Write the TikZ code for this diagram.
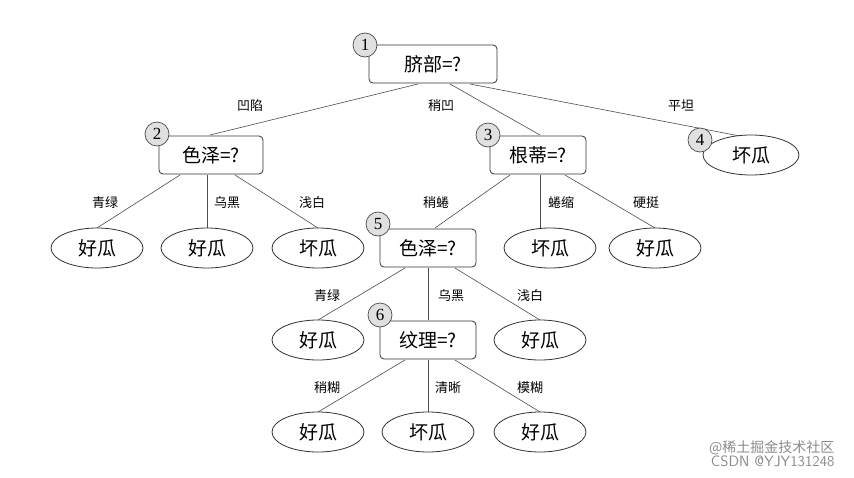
\documentclass[tikz,border=0pt]{standalone}
\usepackage{fontspec}
\newfontfamily\cjk{Noto Sans CJK SC}
\setmainfont{Liberation Serif}
\usetikzlibrary{shapes.geometric}
\begin{document}
\begin{tikzpicture}[x=1pt,y=-1pt,
  dec/.style={draw=black!80,rounded corners=4pt,minimum width=96pt,minimum height=38pt,font=\fontsize{19}{19}\selectfont\cjk,fill=white,line width=0.8pt},
  leaf/.style={draw=black!80,ellipse,minimum width=92pt,minimum height=40pt,font=\fontsize{19}{19}\selectfont\cjk,fill=white,line width=0.8pt},
  num/.style={draw=black!70,circle,fill=black!12,minimum size=24pt,inner sep=0pt,font=\fontsize{17}{17}\selectfont,line width=0.7pt},
  lab/.style={font=\fontsize{13}{13}\selectfont\cjk},
  edge/.style={draw=black!70,line width=0.6pt}]
\useasboundingbox (0,0) rectangle (854,477);
\fill[white] (0,0) rectangle (854,477);
% edges first
\coordinate (e1a) at (418,84);
\coordinate (e1b) at (450,84);
\coordinate (e1c) at (470,84);
\coordinate (t2) at (210,135);
\coordinate (t3) at (540,135);
\coordinate (t4) at (745,137);
\draw[edge] (e1a) -- (t2);
\draw[edge] (e1b) -- (t3);
\draw[edge] (e1c) -- (t4);
\coordinate (b2a) at (180,175);
\coordinate (b2b) at (207,175);
\coordinate (b2c) at (235,175);
\draw[edge] (b2a) -- (97,228);
\draw[edge] (b2b) -- (207,228);
\draw[edge] (b2c) -- (318,228);
\coordinate (b3a) at (510,175);
\coordinate (b3b) at (540,175);
\coordinate (b3c) at (565,175);
\draw[edge] (b3a) -- (435,228);
\draw[edge] (b3b) -- (540,228);
\draw[edge] (b3c) -- (655,228);
\coordinate (b5a) at (405,268);
\coordinate (b5b) at (428,268);
\coordinate (b5c) at (455,268);
\draw[edge] (b5a) -- (318,320);
\draw[edge] (b5b) -- (428,320);
\draw[edge] (b5c) -- (540,320);
\coordinate (b6a) at (405,360);
\coordinate (b6b) at (428,360);
\coordinate (b6c) at (455,360);
\draw[edge] (b6a) -- (318,412);
\draw[edge] (b6b) -- (428,412);
\draw[edge] (b6c) -- (540,412);
% nodes
\node[dec,minimum width=128pt] (n1) at (433,64) {脐部=?};
\node[num] (c1) at (365,45) {1};
\node[dec,minimum width=104pt] (n2) at (211,155) {色泽=?};
\node[num] (c2) at (157,134) {2};
\node[dec] (n3) at (538,155) {根蒂=?};
\node[num] (c3) at (488,135) {3};
\node[leaf,minimum width=96pt] (n4) at (751,155) {坏瓜};
\node[num] (c4) at (700,140) {4};
\node[leaf] (l1) at (97,248) {好瓜};
\node[leaf] (l2) at (207,248) {好瓜};
\node[leaf] (l3) at (318,248) {坏瓜};
\node[dec] (n5) at (428,248) {色泽=?};
\node[num] (c5) at (378,224) {5};
\node[leaf] (l4) at (550,248) {坏瓜};
\node[leaf] (l5) at (655,248) {好瓜};
\node[leaf] (l6) at (318,340) {好瓜};
\node[dec] (n6) at (428,340) {纹理=?};
\node[num] (c6) at (380,315) {6};
\node[leaf] (l7) at (540,340) {好瓜};
\node[leaf] (l8) at (318,432) {好瓜};
\node[leaf] (l9) at (428,432) {坏瓜};
\node[leaf] (l10) at (540,432) {好瓜};
% labels
\node[lab] at (250,106) {凹陷};
\node[lab] at (441,106) {稍凹};
\node[lab] at (681,106) {平坦};
\node[lab] at (105,203) {青绿};
\node[lab] at (227,203) {乌黑};
\node[lab] at (312,203) {浅白};
\node[lab] at (436,203) {稍蜷};
\node[lab] at (561,203) {蜷缩};
\node[lab] at (646,203) {硬挺};
\node[lab] at (327,296) {青绿};
\node[lab] at (451,296) {乌黑};
\node[lab] at (530,296) {浅白};
\node[lab] at (327,388) {稍糊};
\node[lab] at (448,388) {清晰};
\node[lab] at (530,388) {模糊};
% watermark
\node[font=\fontsize{14}{14}\selectfont\cjk,text=black!45,anchor=east] (w1) at (838,448) {@稀土掘金技术社区};
\node[font=\fontsize{15}{15}\selectfont\sffamily,text=black!45,anchor=east] (w2) at (838,461) {CSDN @YJY131248};
\end{tikzpicture}
\end{document}
